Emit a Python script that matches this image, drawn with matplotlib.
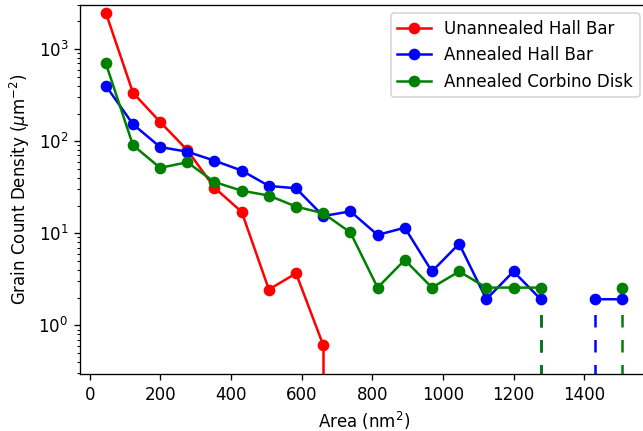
import numpy as np
import matplotlib
matplotlib.use('Agg')
import matplotlib.pyplot as plt

# bin centres (nm^2)
area = [45, 122, 199, 276, 353, 430, 507, 584, 661, 738, 815, 892, 969,
        1046, 1123, 1200, 1277, 1354, 1431, 1508]

# grain count densities (um^-2), np.nan where the count is zero
unannealed_hb = [2500, 337, 162, 80, 31.2, 17.1, 2.45, 3.67, 0.61]
annealed_hb = [402, 153, 86.5, 76.9, 61.5, 48, 32.7, 30.8, 15.4, 17.3, 9.6,
               11.5, 3.85, 7.7, 1.92, 3.85, 1.92, np.nan, 1.92, 1.92]
annealed_cd = [705, 90.5, 51.4, 59.1, 36, 29, 25.7, 19.5, 16.5, 10.2, 2.57,
               5.13, 2.57, 3.85, 2.57, 2.57, 2.57, np.nan, np.nan, 2.57]

# points where the next/previous bin drops to zero: (x, y, color, solid?)
drops = [(661, 0.61, 'r', True),
         (1277, 1.92, 'b', False),
         (1431, 1.92, 'b', False),
         (1277, 2.57, 'g', False),
         (1508, 2.57, 'g', False)]

ymin, ymax = 0.296, 3020

dpi = 120
fig = plt.figure(figsize=(643 / dpi, 431 / dpi), dpi=dpi)
ax = fig.add_axes([80 / 643, 57 / 431, 568 / 643, 369 / 431])

ax.plot(area[:len(unannealed_hb)], unannealed_hb, 'o-', color='r',
        label='Unannealed Hall Bar')
ax.plot(area, annealed_hb, 'o-', color='b', label='Annealed Hall Bar')
ax.plot(area, annealed_cd, 'o-', color='g', label='Annealed Corbino Disk')

for x, y, c, solid in drops:
    ls = '-' if solid else (0, (5, 5))
    ax.plot([x, x], [ymin * 0.5, y], color=c, lw=1.5, ls=ls, zorder=1.5)

ax.set_yscale('log')
ax.set_ylim(ymin, ymax)
ax.set_xlim(-28, 1581)
ax.set_xticks([0, 200, 400, 600, 800, 1000, 1200, 1400])

ax.set_xlabel('Area (nm$^2$)')
ax.set_ylabel(r'Grain Count Density ($\mu$m$^{-2}$)')
ax.legend(loc='upper right')

fig.savefig('out.png', dpi=dpi)
